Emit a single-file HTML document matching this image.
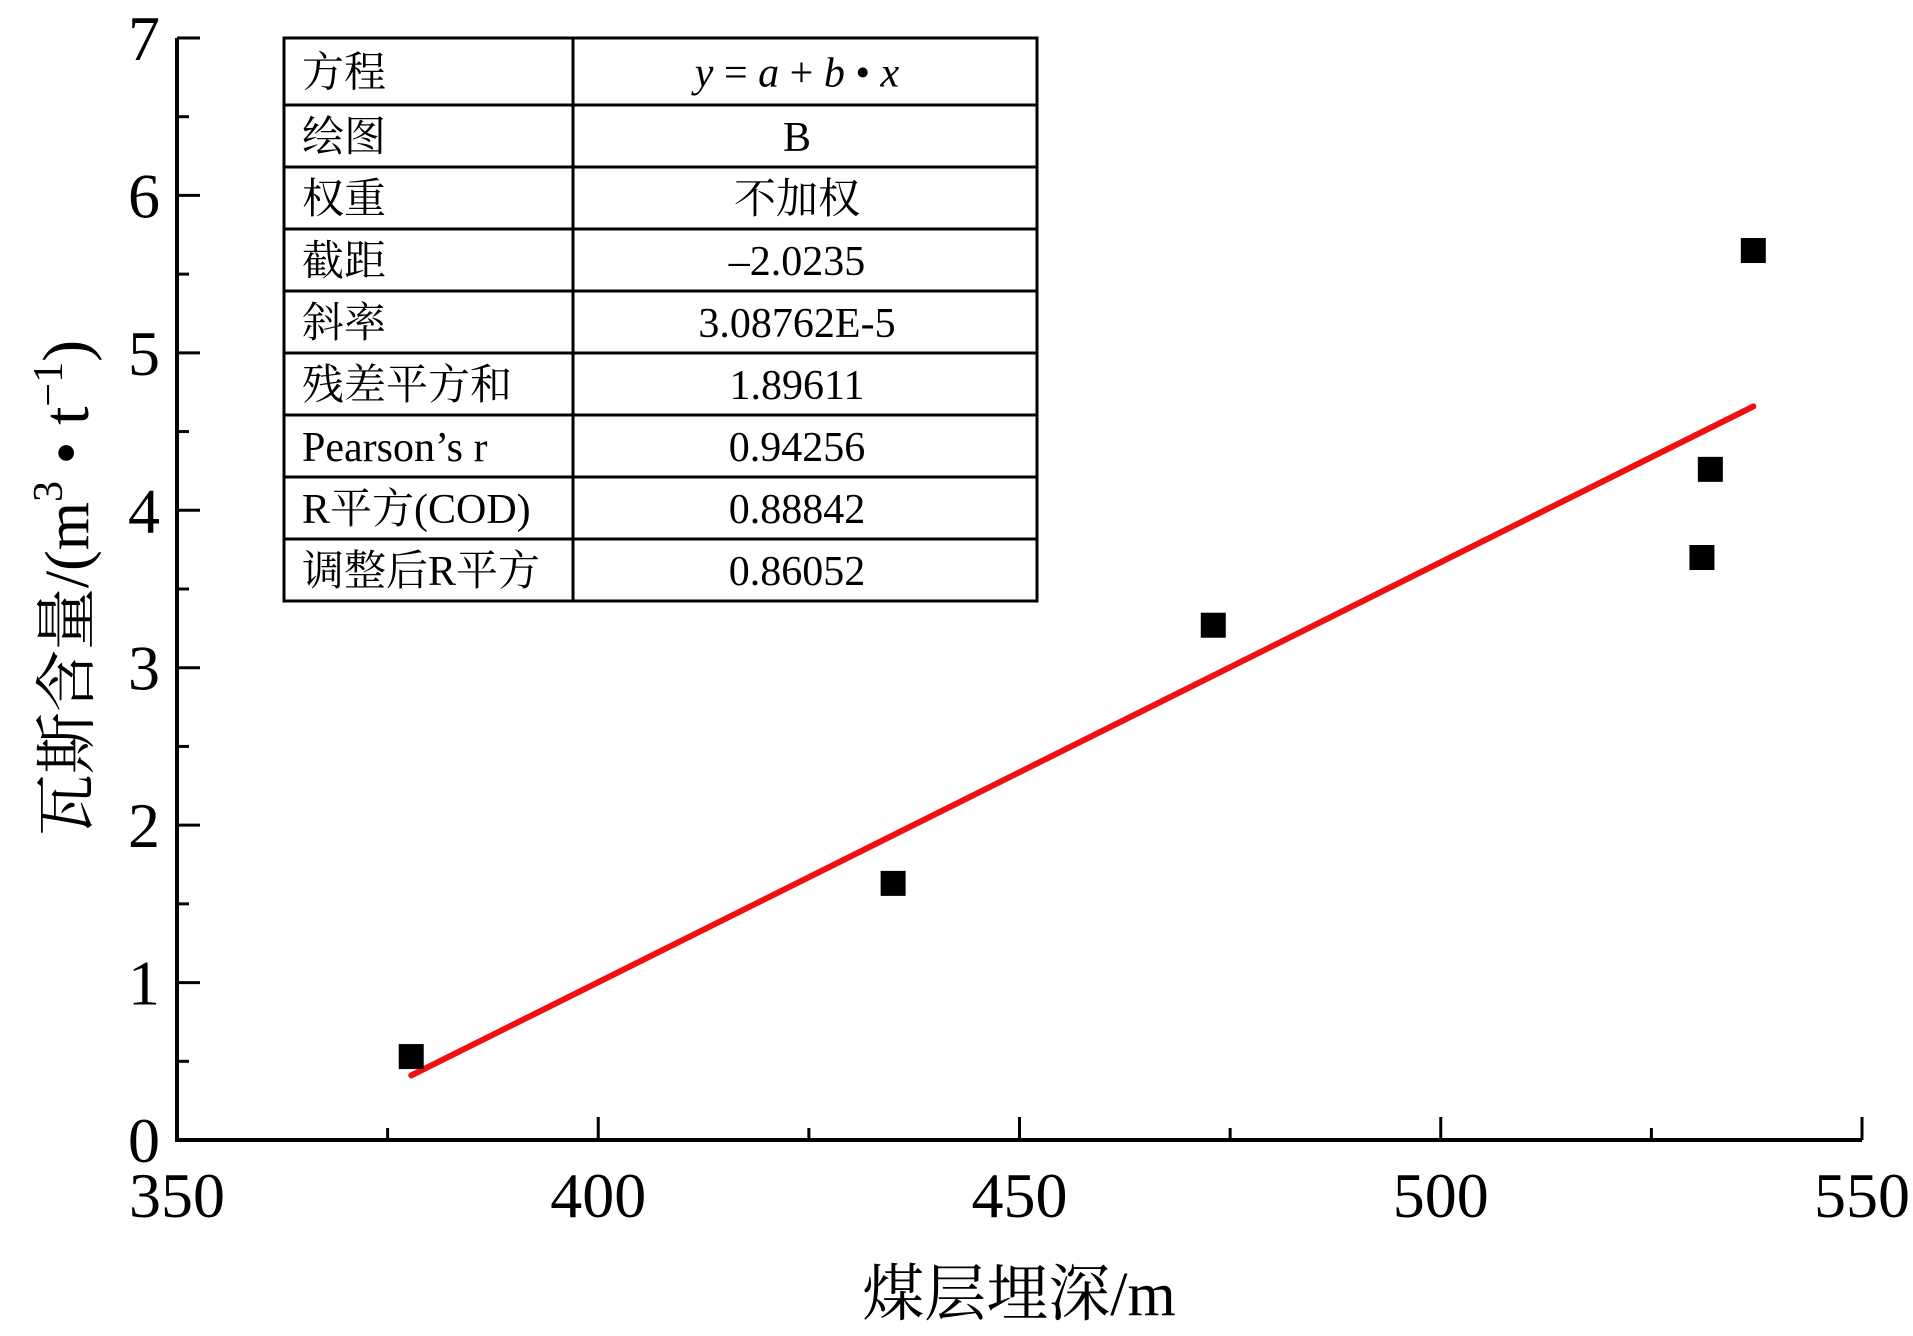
<!DOCTYPE html>
<html><head><meta charset="utf-8"><style>
html,body{margin:0;padding:0;background:#fff;}
svg{display:block;}
text{font-family:"Liberation Serif","Noto Serif CJK SC","Noto Sans CJK SC",serif;fill:#000;}
</style></head><body>
<svg id="chart" width="1913" height="1336" viewBox="0 0 1913 1336" xmlns="http://www.w3.org/2000/svg">
<g id="axes"></g>
<g id="marks"></g>
<g id="table"></g>
<text x="1019" y="1315" font-size="62" text-anchor="middle">煤层埋深/m</text>
<text transform="translate(88,588) rotate(-90)" font-size="62" text-anchor="middle">瓦斯含量/(m<tspan font-size="42" dy="-26">3</tspan><tspan dy="26" font-size="66"> • t</tspan><tspan font-size="42" dy="-26">−1</tspan><tspan dy="26" font-size="66">)</tspan></text>
</svg>
<script>
const xTicks=[350,400,450,500,550];
const yTicks=[0,1,2,3,4,5,6,7];
const ptX=[377.8,435.0,473.0,531.0,532.0,537.1];
const ptY=[0.53,1.63,3.27,3.70,4.26,5.65];
const fitX=[377.8,537.1];
const fitY=[0.41,4.66];
const tableLabels=["方程","绘图","权重","截距","斜率","残差平方和","Pearson’s r","R平方(COD)","调整后R平方"];
const tableValues=["y = a + b • x","B","不加权","–2.0235","3.08762E-5","1.89611","0.94256","0.88842","0.86052"];

const NS="http://www.w3.org/2000/svg";
const L=177,R=1862,B=1140,T=38;
const xs=v=>L+(v-350)/(550-350)*(R-L);
const ys=v=>B-(v-0)/(7-0)*(B-T);
function mk(tag,attrs,parent){const e=document.createElementNS(NS,tag);for(const k in attrs)e.setAttribute(k,attrs[k]);parent.appendChild(e);return e;}
const axes=document.getElementById('axes');
let e=mk('line',{x1:L,y1:B,x2:R,y2:B,stroke:'#000','stroke-width':4},axes);


e=mk('line',{x1:L,y1:B+2,x2:L,y2:T,stroke:'#000','stroke-width':4},axes);


for(let i=0;i<xTicks.length;i++){
  const x=xs(xTicks[i]);
  e=mk('line',{x1:x,y1:B,x2:x,y2:B-23,stroke:'#000','stroke-width':3},axes);
  
  
  if(i<xTicks.length-1){const xm=xs((xTicks[i]+xTicks[i+1])/2);
    e=mk('line',{x1:xm,y1:B,x2:xm,y2:B-12,stroke:'#000','stroke-width':3},axes);
    
    }
  e=mk('text',{x:x,y:1217,'font-size':64,'text-anchor':'middle'},axes);
  e.textContent=xTicks[i];
  
  
}
for(let i=0;i<yTicks.length;i++){
  const y=ys(yTicks[i]);
  e=mk('line',{x1:L,y1:y,x2:L+23,y2:y,stroke:'#000','stroke-width':3},axes);
  
  
  if(i<yTicks.length-1){const ym=ys((yTicks[i]+yTicks[i+1])/2);
    e=mk('line',{x1:L,y1:ym,x2:L+12,y2:ym,stroke:'#000','stroke-width':3},axes);
    
    }
  e=mk('text',{x:160,y:y+22,'font-size':64,'text-anchor':'end'},axes);
  e.textContent=yTicks[i];
  
  
}
const marks=document.getElementById('marks');
e=mk('line',{x1:xs(fitX[0]),y1:ys(fitY[0]),x2:xs(fitX[1]),y2:ys(fitY[1]),stroke:'#f01010','stroke-width':6,'stroke-linecap':'round'},marks);


for(let i=0;i<ptX.length;i++){
  e=mk('rect',{x:xs(ptX[i])-12.5,y:ys(ptY[i])-12.5,width:25,height:25,fill:'#000'},marks);
  
  
}
const tb=document.getElementById('table');
const TL=284,TR=1037,TD=573,TT=38,rowH=[67,62,62,62,62,62,62,62,62];
let y=TT;
for(let i=0;i<tableLabels.length;i++){
  const h=rowH[i];
  e=mk('rect',{x:TL,y:y,width:TR-TL,height:h,fill:'none',stroke:'#000','stroke-width':3},tb);
  
  
  e=mk('text',{x:TL+18,y:y+h/2+15,'font-size':42},tb);
  e.textContent=tableLabels[i];
  
  
  e=mk('text',{x:(TD+TR)/2-8,y:y+h/2+15,'font-size':42,'text-anchor':'middle'},tb);
  if(i===0){e.innerHTML='<tspan font-style="italic">y</tspan> = <tspan font-style="italic">a</tspan> + <tspan font-style="italic">b</tspan> • <tspan font-style="italic">x</tspan>';}
  else e.textContent=tableValues[i];
  
  
  y+=h;
}
e=mk('line',{x1:TD,y1:TT,x2:TD,y2:y,stroke:'#000','stroke-width':3},tb);


</script>
</body></html>
